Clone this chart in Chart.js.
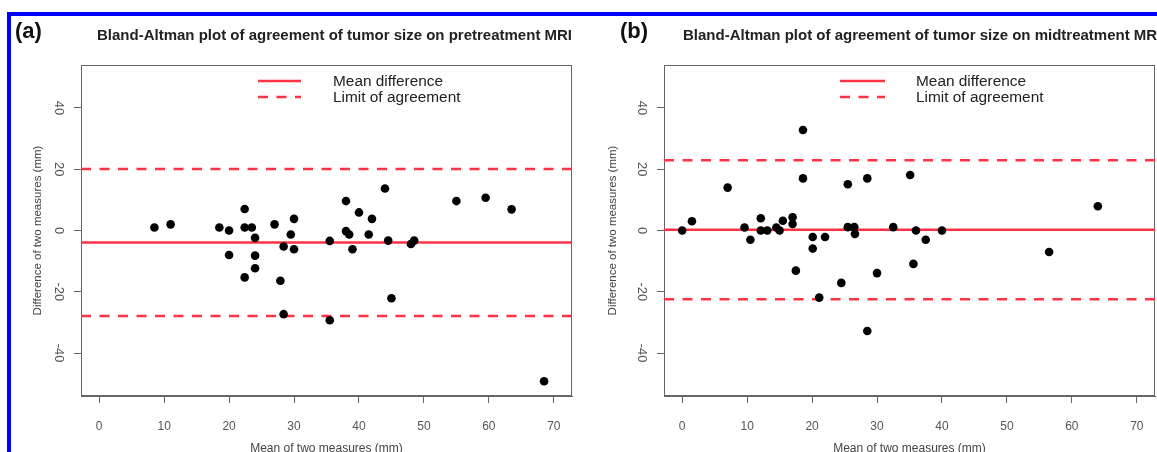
<!DOCTYPE html>
<html>
<head>
<meta charset="utf-8">
<script src="https://cdn.jsdelivr.net/npm/chart.js@4.4.0/dist/chart.umd.min.js"></script>
<style>
html,body{margin:0;padding:0;width:1157px;height:452px;overflow:hidden;background:#fff;font-family:"Liberation Sans",Arial,sans-serif;}
#root{position:relative;width:1157px;height:452px;overflow:hidden;}
.frame-top{position:absolute;left:7px;top:12px;width:1150px;height:4px;background:#0000ff;}
.frame-left{position:absolute;left:7px;top:12px;width:4px;height:440px;background:#0000ff;}
.plabel{position:absolute;font-weight:bold;font-size:22px;line-height:22px;color:#111;}
.ptitle{position:absolute;font-weight:bold;font-size:15px;line-height:16px;color:#222;white-space:nowrap;}
.lrow{position:absolute;display:flex;align-items:center;height:16px;font-size:15.4px;color:#222;white-space:nowrap;}
.lrow svg{display:block;}
canvas{position:absolute;top:0;}
</style>
</head>
<body>
<div id="root">
  <canvas id="cA" width="600" height="470" style="left:0px;width:600px;height:470px"></canvas>
  <canvas id="cB" width="600" height="470" style="left:583px;width:600px;height:470px"></canvas>
  <div class="frame-top"></div>
  <div class="frame-left"></div>
</div>
<script>
// ---- data ----
const panelLabels = ["(a)", "(b)"];
const panelTitles = [
  "Bland-Altman plot of agreement of tumor size on pretreatment MRI",
  "Bland-Altman plot of agreement of tumor size on midtreatment MRI"
];
const legendLabels = ["Mean difference", "Limit of agreement"];
const xAxisTitle = "Mean of two measures (mm)";
const yAxisTitle = "Difference of two measures (mm)";

// Panel (a): pretreatment
const preMean = [8.5, 11, 18.5, 20, 20, 22.4, 22.4, 23.5, 24, 24, 24, 22.4, 27, 28.4, 27.9, 28.4, 29.5, 30, 30, 35.5,
                 35.5, 38, 38, 38.5, 39, 40, 41.5, 42, 44, 44.5, 45, 48, 48.5, 55, 59.5, 63.5, 68.5];
const preDiff = [1, 2, 1, 0, -8, 7, 1, 1, -2.4, -8.2, -12.3, -15.3, 2, -5.2, -16.4, -27.3, -1.3, -6.1, 3.8, -3.4,
                 -29.3, 9.6, -0.2, -1.3, -6.1, 5.9, -1.3, 3.8, 13.7, -3.3, -22.1, -4.4, -3.3, 9.6, 10.7, 6.9, -49.2];
const preMeanDiff = -3.9;
const preLimits = [20.1, -27.9];

// Panel (b): midtreatment
const midMean = [0, 1.5, 7, 9.6, 10.5, 12.1, 12.1, 13.1, 14.5, 15, 15.5, 17, 17, 17.5, 18.6, 18.6, 20.1, 20.1, 21.1, 22,
                 24.5, 25.5, 25.5, 26.5, 26.6, 28.5, 28.5, 30, 32.5, 35.1, 35.6, 36, 37.5, 40, 56.5, 64];
const midDiff = [0, 3, 14, 1, -3, 4, 0, 0, 1, 0, 3.2, 4.3, 2.1, -13.1, 32.8, 17, -2.1, -5.9, -21.9, -2.1,
                 -17.1, 15.1, 1.1, 1.1, -1.1, 17, -32.8, -13.9, 1.1, 18.1, -10.9, 0, -3, 0, -7, 7.9];
const midMeanDiff = 0.25;
const midLimits = [22.9, -22.4];

const xTicks = [0, 10, 20, 30, 40, 50, 60, 70];
const yTicks = [-40, -20, 0, 20, 40];

// ---- styling ----
const FONT = '"Liberation Sans", Arial, sans-serif';
const RED = '#ff3344';
const X_MIN = -2.8, X_MAX = 72.8, Y_MIN = -54, Y_MAX = 54;

const boxPlugin = {
  id: 'box',
  beforeDatasetsDraw(chart) {
    const {ctx, chartArea: a} = chart;
    ctx.save();
    ctx.strokeStyle = '#666';
    ctx.lineWidth = 1;
    ctx.strokeRect(a.left + 0.5, a.top + 0.5, a.width - 1, a.height - 1);
    ctx.restore();
  }
};

function makeChart(id, means, diffs, meanDiff, limits, yTitlePad) {
  const pts = means.map((m, i) => ({x: m, y: diffs[i]}));
  const hline = v => [{x: X_MIN, y: v}, {x: X_MAX, y: v}];
  return new Chart(document.getElementById(id), {
    type: 'scatter',
    data: {
      datasets: [
        {label: 'points', data: pts, backgroundColor: '#000', borderColor: '#000', pointRadius: 4.3, pointBorderWidth: 0},
        {label: legendLabels[0], data: hline(meanDiff), showLine: true, borderColor: RED, borderWidth: 2.5, pointRadius: 0},
        {label: legendLabels[1], data: hline(limits[0]), showLine: true, borderColor: RED, borderWidth: 2.5, borderDash: [10, 8.5], pointRadius: 0},
        {label: legendLabels[1], data: hline(limits[1]), showLine: true, borderColor: RED, borderWidth: 2.5, borderDash: [10, 8.5], pointRadius: 0}
      ]
    },
    options: {
      responsive: false,
      animation: false,
      devicePixelRatio: 1,
      layout: {padding: {left: 0, top: 65, right: 28, bottom: 0}},
      plugins: {legend: {display: false}, tooltip: {enabled: false}, title: {display: false}},
      scales: {
        x: {
          type: 'linear', min: X_MIN, max: X_MAX,
          afterFit(s) { s.height = 74; },
          afterBuildTicks(s) { s.ticks = xTicks.map(v => ({value: v})); },
          ticks: {stepSize: 10, includeBounds: false, autoSkip: false, maxRotation: 0, color: '#555', padding: 16,
                  font: {family: FONT, size: 12}},
          grid: {display: true, drawOnChartArea: false, drawTicks: true, tickLength: 7, color: '#666'},
          border: {display: true, color: '#666'},
          title: {display: true, text: xAxisTitle, color: '#444', font: {family: FONT, size: 12}, padding: {top: 0, bottom: 13.8}}
        },
        y: {
          type: 'linear', min: Y_MIN, max: Y_MAX,
          afterFit(s) { s.width = 81; },
          afterBuildTicks(s) { s.ticks = yTicks.map(v => ({value: v})); },
          ticks: {stepSize: 20, includeBounds: false, autoSkip: false, minRotation: -90, maxRotation: -90, crossAlign: 'center',
                  color: '#555', padding: 5.6, font: {family: FONT, size: 13}},
          grid: {display: true, drawOnChartArea: false, drawTicks: true, tickLength: 7, color: '#666'},
          border: {display: true, color: '#666'},
          title: {display: true, text: yAxisTitle, color: '#444', font: {family: FONT, size: 11.5}, padding: {top: yTitlePad, bottom: 0}}
        }
      }
    },
    plugins: [boxPlugin]
  });
}

makeChart('cA', preMean, preDiff, preMeanDiff, preLimits, 30.6);
makeChart('cB', midMean, midDiff, midMeanDiff, midLimits, 23.1);

// ---- text overlays: panel labels, titles, legends ----
const root = document.getElementById('root');
function addDiv(cls, text, left, top) {
  const d = document.createElement('div');
  d.className = cls; d.textContent = text;
  d.style.left = left + 'px'; d.style.top = top + 'px';
  root.appendChild(d); return d;
}
addDiv('plabel', panelLabels[0], 15, 20);
addDiv('plabel', panelLabels[1], 620, 20);
addDiv('ptitle', panelTitles[0], 97, 27);
addDiv('ptitle', panelTitles[1], 683, 27);

function addLegend(left, lineW, gap) {
  legendLabels.forEach((lab, i) => {
    const row = document.createElement('div');
    row.className = 'lrow';
    row.style.left = left + 'px';
    row.style.top = (73 + i * 16) + 'px';
    const dash = i === 1 ? ' stroke-dasharray="10 8.5"' : '';
    row.innerHTML = '<svg width="' + lineW + '" height="16"><line x1="0" y1="8" x2="' + lineW + '" y2="8" stroke="' + RED +
      '" stroke-width="2.5"' + dash + '/></svg>';
    const sp = document.createElement('span');
    sp.textContent = lab;
    sp.style.marginLeft = gap + 'px';
    row.appendChild(sp);
    root.appendChild(row);
  });
}
addLegend(258, 43, 32);
addLegend(840, 45, 31);
</script>
</body>
</html>
